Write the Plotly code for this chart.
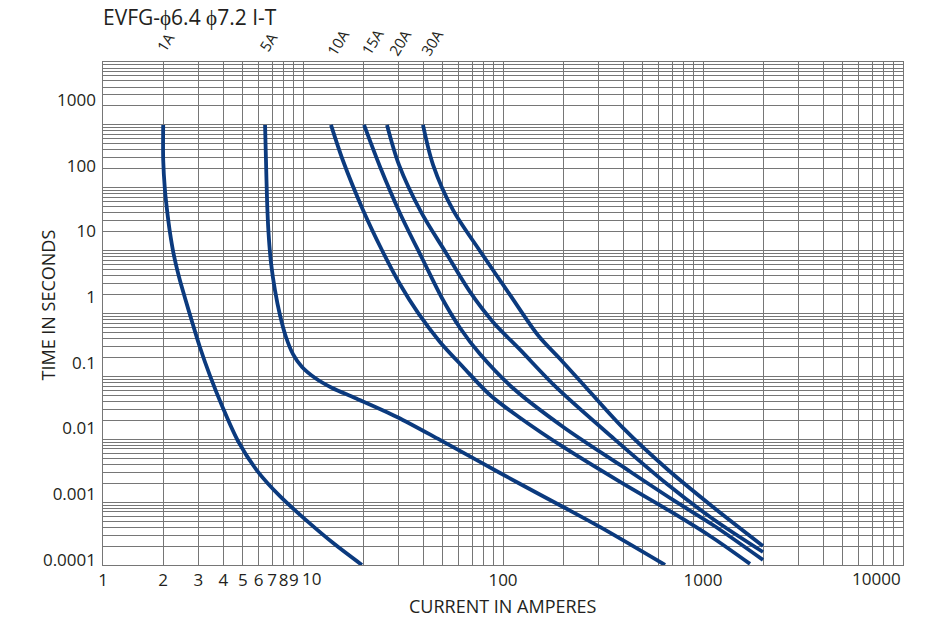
import numpy as np
import plotly.graph_objects as go

# Palette
GRID = '#767676'
TEXT = '#231f20'
CURVE = '#0b3a7e'
FONT = 'Open Sans'

# Fuse ratings and their I-T curves (current in A, time in s)
RATINGS = ['1A', '5A', '10A', '15A', '20A', '30A']

current_1a = [2.0, 2.0, 2.04, 2.09, 2.16, 2.26, 2.40, 2.57, 2.79, 3.05, 3.43, 3.94, 4.73, 5.89,
              7.67, 10.5, 14.1, 19.7]
time_1a = [417, 122, 42.7, 21.2, 9.8, 4.38, 2.02, 0.970, 0.419, 0.174, 0.0631, 0.0220, 0.00646,
           0.00229, 0.000933, 0.000389, 0.000182, 0.000084]

current_5a = [6.46, 6.53, 6.61, 6.72, 6.92, 7.24, 7.67, 8.22, 8.91, 9.89, 11.5, 14.0, 18.2, 29.5,
              48.4, 76.7, 122, 200, 305, 646]
time_5a = [417, 122, 30.1, 9.8, 3.31, 1.28, 0.535, 0.247, 0.136, 0.0865, 0.0588, 0.0414, 0.0292,
           0.0150, 0.00670, 0.00310, 0.00143, 0.000640, 0.000318, 0.000084]

current_10a = [13.8, 15.8, 19.95, 24.8, 30.5, 37.6, 48.4, 63.1, 86.1, 122, 200, 385, 708, 1122, 1718]
time_10a = [417, 122, 21.2, 5.21, 1.58, 0.574, 0.208, 0.0865, 0.0324, 0.0145, 0.00524, 0.00154,
            0.000519, 0.000216, 0.000087]

current_15a = [20.2, 24.3, 30.5, 39.8, 49.5, 61.0, 76.7, 112, 200, 385, 708, 1122, 1995]
time_15a = [417, 95.5, 19.1, 3.67, 0.970, 0.339, 0.136, 0.0414, 0.01057, 0.00279, 0.000818,
            0.000340, 0.0001]

current_20a = [26.3, 30.2, 38.9, 51.9, 68.4, 89.1, 122, 186, 355, 661, 1122, 1995]
time_20a = [417, 103, 19.8, 4.70, 1.20, 0.419, 0.157, 0.0414, 0.00718, 0.00143, 0.000420, 0.000132]

current_30a = [39.8, 44.7, 56.2, 76.7, 108.4, 150, 193, 243, 398, 661, 1122, 1995]
time_30a = [417, 103, 21.2, 5.04, 1.08, 0.260, 0.114, 0.0530, 0.0102, 0.00242, 0.000640,
            0.000163]

CURVES = [
    (current_1a, time_1a),
    (current_5a, time_5a),
    (current_10a, time_10a),
    (current_15a, time_15a),
    (current_20a, time_20a),
    (current_30a, time_30a),
]

# Axis ticks
Y_TICKS = [0.0001, 0.001, 0.01, 0.1, 1, 10, 100, 1000]
Y_LABELS = ['0.0001', '0.001', '0.01', '0.1', '1', '10', '100', '1000']
X_LABELLED = {1: '1', 2: '2', 3: '3', 4: '4', 5: '5', 6: '6', 7: '7', 8: '8', 9: '9',
              100: '100', 1000: '1000'}

# log paper: vertical lines 1..9 per decade, horizontal lines 1..5 in half steps
x_grid = [m * 10 ** d for d in range(4) for m in range(1, 10)] + [10000]
x_text = [X_LABELLED.get(v, '') for v in x_grid]
y_grid = [m * 10.0 ** d for d in range(-5, 4)
          for m in (1, 1.5, 2, 2.5, 3, 3.5, 4, 4.5, 5) if 5e-5 <= m * 10.0 ** d <= 5e3]

fig = go.Figure()

# invisible anchor so the grid (main) y axis gets drawn
fig.add_trace(go.Scatter(x=[1, 1], y=[1, 1], mode='lines', line=dict(width=0),
                         hoverinfo='skip', showlegend=False))

for cur, t in CURVES:
    fig.add_trace(go.Scatter(
        x=cur, y=t, mode='lines', yaxis='y2',
        line=dict(color=CURVE, width=3.8, shape='spline', smoothing=0.9),
        showlegend=False,
    ))

# rating labels above each curve
label_shift = [2, 3, 7, 8, 13, 9]
annotations = []
for name, (cur, _), dx in zip(RATINGS, CURVES, label_shift):
    annotations.append(dict(
        x=np.log10(cur[0]), xref='x', y=1, yref='paper', yshift=20, xshift=dx,
        text=name, showarrow=False, textangle=-58,
        font=dict(size=15, color=TEXT, family=FONT),
        xanchor='center', yanchor='middle',
    ))

tick_font = dict(size=17, color=TEXT, family=FONT)
title_font = dict(size=18, color=TEXT, family=FONT)
annotations += [
    dict(x=1, xref='x', y=0, yref='paper', yshift=-13, xshift=8, text='10', showarrow=False,
         xanchor='center', yanchor='middle', font=tick_font),
    dict(x=4, xref='x', y=0, yref='paper', yshift=-13, text='10000', showarrow=False,
         xanchor='right', yanchor='middle', font=tick_font),
    dict(x=0.5, xref='paper', y=0, yref='paper', yshift=-41, text='CURRENT IN AMPERES',
         showarrow=False, xanchor='center', yanchor='middle', font=title_font),
    dict(x=0, xref='paper', xshift=-56, y=0.5, yref='paper', yshift=8,
         text='TIME IN SECONDS', showarrow=False, textangle=-90,
         xanchor='center', yanchor='middle', font=title_font),
]

fig.update_layout(
    width=948, height=618,
    margin=dict(l=103, r=45, t=62, b=53),
    paper_bgcolor='white', plot_bgcolor='white',
    font=dict(family=FONT, size=17, color=TEXT),
    title=dict(text='EVFG-ϕ6.4 ϕ7.2 I-T', x=103 / 948, xanchor='left',
               y=1 - 18 / 618, yanchor='middle', xref='container', yref='container',
               font=dict(size=21, color=TEXT, family=FONT)),
    annotations=annotations,
    xaxis=dict(
        type='log', range=[0, 4], tickmode='array', tickvals=x_grid, ticktext=x_text,
        tickangle=0, ticks='', showgrid=True, gridcolor=GRID, gridwidth=1,
        showline=True, mirror=True, linecolor=GRID, linewidth=1, zeroline=False,
        tickfont=tick_font,
    ),
    yaxis=dict(
        type='log', range=[np.log10(5e-5), np.log10(5e3)], tickmode='array',
        tickvals=y_grid, showticklabels=False, ticks='', showgrid=True,
        gridcolor=GRID, gridwidth=1, showline=True, mirror=True, linecolor=GRID,
        linewidth=1, zeroline=False,
    ),
    yaxis2=dict(
        type='log', overlaying='y', side='left', range=[-4.077, 3.578],
        tickmode='array', tickvals=Y_TICKS, ticktext=Y_LABELS, ticks='',
        showgrid=False, showline=False, zeroline=False, ticklabelstandoff=6,
        tickfont=tick_font,
    ),
)

fig.write_html('out.html', config={'displayModeBar': False},
               post_script="document.body.style.margin='0';")
